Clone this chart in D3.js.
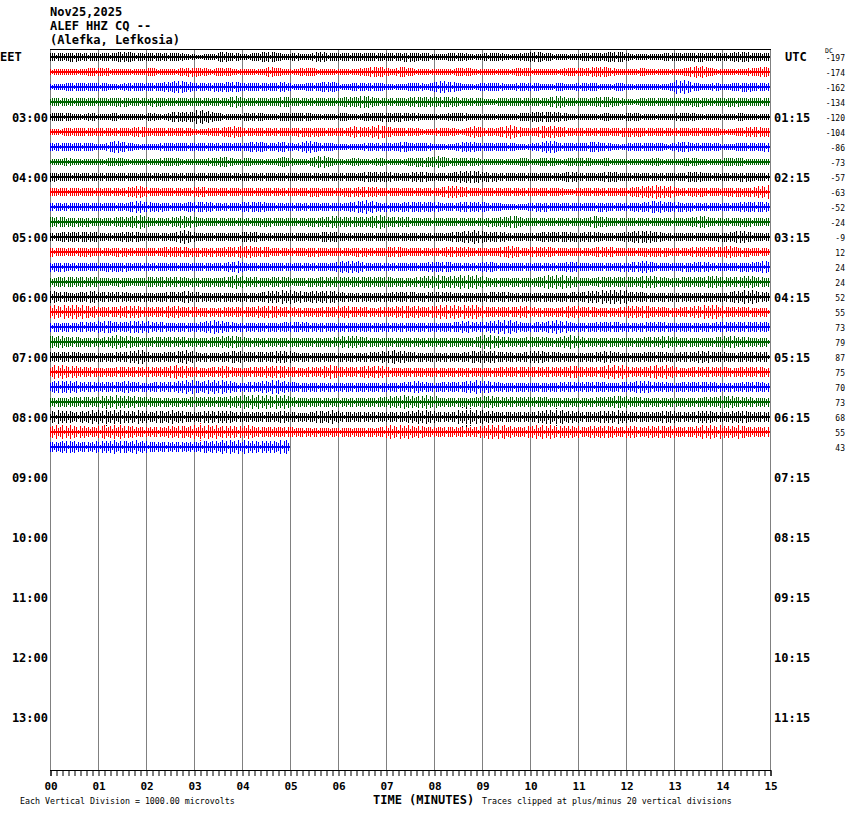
<!DOCTYPE html>
<html><head><meta charset="utf-8">
<script src="https://cdn.jsdelivr.net/npm/d3@7"></script>
<style>body{margin:0;background:#fff}svg{display:block}</style>
</head><body>
<svg id="chart" width="850" height="814"></svg>
<script>
// ---------- DATA ----------
const titleLines = ["Nov25,2025", "ALEF HHZ CQ --", "(Alefka, Lefkosia)"];
const localZone = "EET";
const utcZone = "UTC";
const localHours = ["03:00","04:00","05:00","06:00","07:00","08:00","09:00","10:00","11:00","12:00","13:00"];
const utcHours = ["01:15","02:15","03:15","04:15","05:15","06:15","07:15","08:15","09:15","10:15","11:15"];
const minuteLabels = ["00","01","02","03","04","05","06","07","08","09","10","11","12","13","14","15"];
const dcOffsets = [-197,-174,-162,-134,-120,-104,-86,-73,-57,-63,-52,-24,-9,12,24,24,52,55,73,79,87,75,70,73,68,55,43];
const traceColors = ["#000000","#ff0000","#0000ff","#006600"];
const scaleNote = "Each Vertical Division = 1000.00 microvolts";
const axisTitle = "TIME (MINUTES)";
const clipNote = "Traces clipped at plus/minus 20 vertical divisions";

// half-amplitude envelopes (vertical divisions) per quarter minute, one array per 15-minute line
const trace00 = [2.5,3,3,2.5, 2.5,3,3.5,2.5, 3,2.5,3,2, 1.5,2,3.5,2.5, 2,3,3.5,2, 2.5,2,3.5,2.5, 2.5,3,2.5,2.5, 2.5,3,3,2.5, 2,2.5,2.5,2, 2.5,2.5,2,2.5, 3.5,2.5,2,2, 2.5,2.5,3,3.5, 2,2,2,2.5, 2.5,3,3,2.5, 2.5,3.5,3,2.5];
const trace01 = [2,2,2,2.5, 3,2,2,2, 2.5,2,2,3, 3,2,3,2, 2,2,3.5,2, 2,3,2,2, 2,2,3,3.5, 2,3.5,2,2, 2,2,3,2, 2,2,2,3, 2,2,2,3, 2.5,3.5,3,2, 2,2.5,2,2, 2,3.5,4,2, 2,2,2.5,3.5];
const trace02 = [2,2.5,2.5,2.5, 2.5,2,2.5,2.5, 2.5,3,4,3.5, 2.5,3,3,3.5, 2.5,2.5,2.5,3.5, 2,2.5,3,3.5, 2,2.5,2.5,2.5, 2,2,3,2, 4,3.5,2,2, 3,2.5,2,3, 2.5,2,2.5,2, 3,2.5,2,2.5, 2,2,2,2, 5.5,3,2,2.5, 2,3,3,2.5];
const trace03 = [2.5,2.5,3,2.5, 2.5,3,3,2.5, 3,3,2.5,2.5, 2.5,2.5,2.5,4, 2.5,3,2.5,3.5, 2.5,2.5,2.5,2.5, 3,3.5,4,2.5, 2.5,2.5,3.5,3.5, 3,3.5,2.5,3, 2,2.5,2.5,3, 2.5,3,4,2.5, 2.5,3,3.5,2.5, 2,2.5,2.5,2.5, 2.5,3,3,2.5, 3,3,2.5,2.5];
const trace04 = [2.5,2.5,2,2.5, 2,2.5,2,2, 2.5,2,3.5,3, 5,3.5,2,2, 2.5,2.5,2,2.5, 3,2.5,2,2, 2.5,2,2.5,3, 3,3,2.5,2, 2,2.5,2.5,2, 2,2,2,2.5, 3.5,3.5,3,2, 2,2,2.5,2, 3,2,2,2, 2.5,2.5,2,2, 2,2.5,2,2];
const trace05 = [2,2.5,3,2.5, 2.5,3,2.5,3.5, 2.5,2.5,2.5,2.5, 2,2.5,3,4, 2.5,2.5,2.5,2.5, 3,3,3,2.5, 2.5,4,3,5, 3,2.5,2.5,2, 2.5,2.5,2,4, 2.5,3,5,2.5, 2.5,5,3.5,2.5, 2.5,2.5,2.5,3, 3,3,2.5,2.5, 2.5,2.5,2.5,2.5, 2,2.5,3.5,3];
const trace06 = [2.5,2.5,3,2.5, 2,4.5,3,2, 2,2.5,2.5,3, 2.5,2.5,2.5,2.5, 3,3.5,2.5,3.5, 2,4.5,2.5,2.5, 2,2,2.5,2.5, 2.5,3.5,2.5,2.5, 2,2,3.5,3, 2.5,3,2.5,2, 2.5,4.5,3,2.5, 2.5,3.5,2.5,2, 2.5,2.5,3,2, 3.5,3,2.5,2.5, 2,2.5,2.5,3];
const trace07 = [2,2.5,2,2, 2,3,2,2, 2,2.5,2.5,2, 2,2.5,3.5,2, 2.5,2,2,3.5, 2,2,5,2.5, 2,2.5,2,2.5, 2,2,3,3, 4,2.5,2.5,2.5, 2,2,2,2.5, 2,3,2,2.5, 3,2,2.5,2, 2,2,2.5,2, 2,3,2,2, 2.5,2.5,2,2];
const trace08 = [3,2.5,2.5,2.5, 3,2.5,3,2.5, 2.5,2.5,2.5,2.5, 2.5,3,2.5,2.5, 3,2.5,2.5,2.5, 2.5,2.5,3,2.5, 2.5,2.5,3.5,3.5, 3,2.5,3.5,3, 2.5,3,4,4, 3,3,2.5,2.5, 2.5,2.5,2.5,3.5, 2.5,2.5,3.5,3, 2.5,2.5,2.5,3, 2.5,3.5,3,2.5, 2.5,3,3,2.5];
const trace09 = [2.5,2.5,3,2.5, 2.5,2.5,3,4, 2.5,3,2.5,2.5, 3.5,2.5,3,2.5, 2.5,2.5,2.5,3, 2.5,3,3,2.5, 3,3,3.5,3, 2.5,2.5,2.5,2.5, 3,4,3.5,2.5, 2.5,3,2.5,2.5, 2.5,2.5,2.5,2, 3,2.5,2.5,2.5, 3,4,4.5,4, 2.5,3,3,2.5, 3,3,3,4.5];
const trace10 = [2.5,3,2.5,2.5, 2.5,2.5,3,4, 3,3,2.5,3, 3.5,3,2.5,2.5, 3.5,3.5,2.5,2.5, 2.5,2.5,2.5,3, 2.5,3.5,5,3, 3,3,3.5,3.5, 3,2.5,3.5,3.5, 3,2.5,2,2, 3,3,2.5,2.5, 2.5,3,3,2.5, 3,3,4,3.5, 3,3,2.5,3, 2.5,3,3.5,3.5];
const trace11 = [3.5,3,3,3, 2.5,3,3.5,5, 3,2.5,3.5,4, 3,2.5,2.5,3, 2.5,3,3,2.5, 2.5,3,3,4, 3.5,3,3.5,4.5, 3,3.5,2.5,2.5, 2.5,2.5,2.5,2.5, 3,3,4.5,2.5, 2.5,2.5,2.5,2.5, 2.5,4,3,2.5, 2.5,3,2.5,3, 2.5,3,4,2.5, 2.5,3,3,2.5];
const trace12 = [2.5,3.5,3.5,3.5, 2.5,2.5,3.5,3, 2.5,2.5,3,5, 2.5,2.5,2.5,2.5, 3.5,3,2.5,2.5, 2.5,2.5,3,3.5, 2.5,2.5,2.5,2.5, 3,2.5,2.5,2.5, 2.5,3,4,4.5, 3,3.5,2.5,2.5, 2.5,3.5,3.5,3, 3,3.5,2.5,2.5, 4,4,3.5,2.5, 2.5,2.5,2.5,3, 3,4.5,3,2.5];
const trace13 = [3,2.5,3,3, 2.5,3,3,2.5, 2.5,3,3.5,3, 3,3,3,3.5, 4,3.5,3,2.5, 2.5,3,3,2.5, 2.5,3,3,2.5, 3.5,3,2.5,3, 2.5,3.5,3.5,2.5, 2.5,3,4,2.5, 3.5,3.5,2.5,2.5, 2.5,3,3.5,2.5, 2.5,3,3,3, 2.5,3,3.5,3, 4,3,3,2.5];
const trace14 = [3,3,2.5,2.5, 3,3,3,2.5, 2.5,3,2.5,2.5, 2.5,2.5,2.5,4, 2.5,3,2.5,2.5, 2.5,3,2.5,2.5, 4,4,2.5,2.5, 2.5,3,2.5,3, 3.5,3,2.5,2.5, 3.5,2.5,2.5,2.5, 2.5,2.5,2.5,3.5, 2.5,2.5,2.5,3, 3,4,3,2.5, 3,3,3.5,2.5, 2.5,3,3,4];
const trace15 = [3,3.5,3,3.5, 2.5,3,3,2.5, 3.5,3.5,3.5,3, 3,3,3,4.5, 3.5,3,3,3.5, 2.5,3,3,3.5, 3.5,3,3.5,3.5, 3,3,3,4, 4.5,4,4.5,4.5, 3,3,3,3, 3,4.5,5,3.5, 2.5,3,3.5,3.5, 3,4,4,3, 3,3.5,3.5,4, 3,3.5,4,3];
const trace16 = [4,3,3,4, 3,3.5,3,3, 3,3,3.5,4, 3,3,3,3, 3,3,4,5, 4,3.5,4,4, 3,3,3,3, 3,3.5,3,3, 3.5,3,3,3, 3,3.5,3,3, 3,3,3,3, 3.5,4.5,5,5.5, 3.5,3,3,3, 3,3,3,3, 3,4.5,4.5,3.5];
const trace17 = [4.5,4.5,5,4, 3,3.5,4,4, 3,3.5,4,3.5, 3,3,3,3.5, 3,4,4,3.5, 3,3,3,3.5, 4,3.5,3,3, 3.5,4,4,3.5, 4.5,5,4.5,5, 3,3.5,3,4, 3,3,3,4, 3.5,3,3,3, 4,4,3.5,3, 3,3.5,5,4.5, 3.5,3.5,3,3];
const trace18 = [3,3,3,3.5, 4,3.5,3.5,4.5, 3.5,3,3,3, 3,5,4,3, 3,3,3,3, 3.5,3,3,3, 3,3,3,3, 3,3,3,3, 3,3,4,3.5, 3.5,4.5,5,3, 3,4,4.5,3, 3,3,3.5,3, 3,3,3.5,3, 3,3,3,3, 3.5,3.5,3.5,3.5];
const trace19 = [4,3.5,3,3, 3,4.5,4,3, 3,3.5,3.5,3, 3,3,4,4, 3,3,3,3, 3,3,3,3, 4,4,3,3, 3,3,3,3, 3,3,3,3, 5,3.5,3,3, 3.5,3,3,5, 3,3,3,3, 3,3,3.5,4, 3,3,3,3, 4.5,3.5,3,3];
const trace20 = [3.5,3.5,3,3, 3,3,3.5,5, 3,3,3.5,4.5, 3,3,3,4, 3.5,3,3.5,4.5, 3,3,3,3, 3,3,3,3.5, 4.5,4,3,3, 3,3,3,4.5, 4,3.5,3,3, 4.5,3.5,3,3, 3,3,4,3, 3,3,3.5,3, 3,3.5,4,3.5, 3,3,3.5,3.5];
const trace21 = [4.5,4.5,3.5,3, 3,3,3.5,3, 3.5,3,4.5,4, 3,3,4,3, 3,3.5,4,4, 3,3,3.5,4.5, 3.5,3,4,4, 3,3,3,3, 3,3,3,3, 3,3,3.5,3.5, 3,3.5,3,4.5, 3.5,3,4.5,5, 3.5,3,4.5,4.5, 3,3,3.5,3.5, 3,3,3.5,3];
const trace22 = [4,4.5,3.5,3.5, 3,3.5,4,3, 3,3.5,3.5,5, 3.5,5,4.5,3, 3,3.5,5,4, 3,3,3,3, 3,3,3,3, 3,3,4,3, 3,3.5,3.5,4.5, 4,3,3,3, 3,3,3,3.5, 3,3.5,3,3, 3.5,4,3.5,3, 3,3.5,3.5,3, 3,3,3.5,3];
const trace23 = [3,3,3.5,3, 4,5,4,3.5, 3,3,3,3, 3.5,3.5,3.5,4, 5,5.5,5,4.5, 3,3,3,3, 3,3,3,3, 4,4.5,4,5.5, 3,3,3,3, 4,3.5,3.5,3, 3.5,3,3,3, 3,3,3.5,4, 3.5,3,3,3, 3,3,3,3.5, 4.5,3.5,3,3];
const trace24 = [4.5,4,3.5,5, 6,5.5,4,4.5, 3.5,4,4.5,3.5, 3.5,4,4.5,3.5, 3.5,3.5,3.5,4, 3,3,4,4.5, 3.5,3.5,3.5,3.5, 3.5,3.5,4.5,4.5, 3.5,3.5,7,5, 4,3.5,3.5,3.5, 3.5,5.5,6,4, 3.5,3.5,4,4.5, 3.5,3.5,3.5,4, 3.5,3.5,4.5,3.5, 3.5,4,3.5,3.5];
const trace25 = [4.5,4.5,4,3.5, 4.5,5,4,3.5, 3.5,3.5,4,4, 6,5,4,4, 4.5,3.5,3.5,3.5, 3,3,3,3, 3,3,3,3, 5.5,5,4,3.5, 3.5,3.5,3.5,3.5, 5.5,5,3.5,3.5, 4.5,5,4,4, 3.5,4,4,3.5, 4,3.5,4,4, 3.5,3.5,5,5, 4,4.5,3.5,3.5];
const trace26 = [3.5,4,3.5,3.5, 4,4.5,4,4.5, 3.5,3.5,3.5,3.5, 3.5,4,4.5,4.5, 4.5,4,4,5.5];

const traces = [trace00,trace01,trace02,trace03,trace04,trace05,trace06,trace07,trace08,trace09,
  trace10,trace11,trace12,trace13,trace14,trace15,trace16,trace17,trace18,trace19,
  trace20,trace21,trace22,trace23,trace24,trace25,trace26];

// ---------- DRAW ----------
const svg = d3.select("#chart");
const mono = "'DejaVu Sans Mono', 'Liberation Mono', monospace";
const rowsTotal = 48;           // 12 hours x 4 lines
const stepMin = 0.25;           // envelope resolution (minutes)
const rowGap = 15;

const x = d3.scaleLinear().domain([0, 15]).range([50, 770]);
const row = d3.scaleLinear().domain([0, rowsTotal - 1]).range([57, 57 + rowGap * (rowsTotal - 1)]);
const amp = d3.scaleLinear().domain([0, 20]).range([0, 30]); // divisions -> px
const plotTop = 50, plotBottom = 770;

// stroke texture (style only): relative stroke lengths inside one pattern tile,
// clipped by each trace's envelope so the band looks like dense seismic strokes
const strokeTexture = [1,.5,.85,.3,1,.65,.9,.4,1,.55,.75,1,.35,.8,.6,1,.45,.9,.7,.3,
                       1,.6,.85,.5,1,.4,.95,.7,.55,1,.35,.8,1,.5,.65,.9,.45,1,.6,.75];
const tileW = strokeTexture.length * 2;
const defs = svg.append("defs");
traces.forEach((vals, i) => {
  const c = traceColors[i % traceColors.length];
  const p = defs.append("pattern").attr("id", "tex" + i)
    .attr("patternUnits", "userSpaceOnUse")
    .attr("x", x(0) + (i * 22) % tileW).attr("y", row(0) - 7)
    .attr("width", tileW).attr("height", rowGap);
  p.selectAll("rect").data(strokeTexture).join("rect")
    .attr("x", (d, k) => k * 2).attr("width", 1)
    .attr("y", d => 7 - Math.round(d * 7)).attr("height", d => 2 * Math.round(d * 7))
    .attr("fill", c);
});

// header
svg.append("g").selectAll("text").data(titleLines).join("text")
  .attr("x", 50).attr("y", (d, i) => 16 + i * 14)
  .attr("font-family", mono).attr("font-weight", "bold").attr("font-size", 12)
  .text(d => d);

// vertical minute grid
svg.append("g").selectAll("line").data(d3.range(0, 16)).join("line")
  .attr("x1", d => x(d) + 0.5).attr("x2", d => x(d) + 0.5)
  .attr("y1", plotTop).attr("y2", plotBottom)
  .attr("stroke", "#808080").attr("stroke-width", 1);

// top border
svg.append("line").attr("x1", x(0)).attr("x2", x(15) + 1)
  .attr("y1", plotTop - 0.5).attr("y2", plotTop - 0.5)
  .attr("stroke", "#000").attr("stroke-width", 1);

// traces
const area = d3.area().x(d => x(d.t)).y0(d => d.yc + amp(d.v)).y1(d => d.yc - amp(d.v));
const gT = svg.append("g").attr("shape-rendering", "crispEdges");
traces.forEach((vals, i) => {
  const yc = row(i);
  const pts = [{t: 0, v: vals[0], yc}]
    .concat(vals.map((v, k) => ({t: (k + 0.5) * stepMin, v, yc})))
    .concat([{t: vals.length * stepMin, v: vals[vals.length - 1], yc}]);
  const ci = i % traceColors.length;
  gT.append("path").attr("d", area(pts)).attr("fill", `url(#tex${i})`);
  gT.append("rect").attr("x", x(0)).attr("y", yc - 1)
    .attr("width", x(vals.length * stepMin) - x(0)).attr("height", 2)
    .attr("fill", traceColors[ci]);
});

// left / right labels
svg.append("text").attr("x", 0).attr("y", row(0) + 4)
  .attr("font-family", mono).attr("font-weight", "bold").attr("font-size", 12).text(localZone);
svg.append("text").attr("x", 785).attr("y", row(0) + 4)
  .attr("font-family", mono).attr("font-weight", "bold").attr("font-size", 12).text(utcZone);
svg.append("g").selectAll("text").data(localHours).join("text")
  .attr("x", 48).attr("y", (d, i) => row(4 + i * 4) + 5).attr("text-anchor", "end")
  .attr("font-family", mono).attr("font-weight", "bold").attr("font-size", 12).text(d => d);
svg.append("g").selectAll("text").data(utcHours).join("text")
  .attr("x", 774).attr("y", (d, i) => row(4 + i * 4) + 5)
  .attr("font-family", mono).attr("font-weight", "bold").attr("font-size", 12).text(d => d);

// DC offsets
svg.append("text").attr("x", 825).attr("y", 53)
  .attr("font-family", mono).attr("font-size", 6.5).text("DC");
svg.append("g").selectAll("text").data(dcOffsets).join("text")
  .attr("x", 845).attr("y", (d, i) => row(i) + 4).attr("text-anchor", "end")
  .attr("font-family", mono).attr("font-size", 8).text(d => d);

// bottom axis
const axis = d3.axisBottom(x).tickValues(d3.range(0, 15.001, 0.125)).tickSize(6).tickFormat("");
const gA = svg.append("g").attr("transform", `translate(0.5,${plotBottom})`).call(axis);
gA.select(".domain").attr("stroke", "#000");
gA.selectAll(".tick line").attr("stroke", "#000");
svg.append("line").attr("x1", x(0)).attr("x2", x(15) + 1).attr("y1", plotBottom + 0.5).attr("y2", plotBottom + 0.5).attr("stroke", "#000");
svg.append("g").selectAll("text").data(minuteLabels).join("text")
  .attr("x", (d, i) => x(i) + 1).attr("y", 790).attr("text-anchor", "middle")
  .attr("font-family", mono).attr("font-weight", "bold").attr("font-size", 11).text(d => d);

// footer notes
svg.append("text").attr("x", 20).attr("y", 804)
  .attr("font-family", mono).attr("font-size", 8.3).text(scaleNote);
svg.append("text").attr("x", 373).attr("y", 804)
  .attr("font-family", mono).attr("font-weight", "bold").attr("font-size", 12).text(axisTitle);
svg.append("text").attr("x", 482).attr("y", 804)
  .attr("font-family", mono).attr("font-size", 8.3).text(clipNote);
</script>
</body></html>
